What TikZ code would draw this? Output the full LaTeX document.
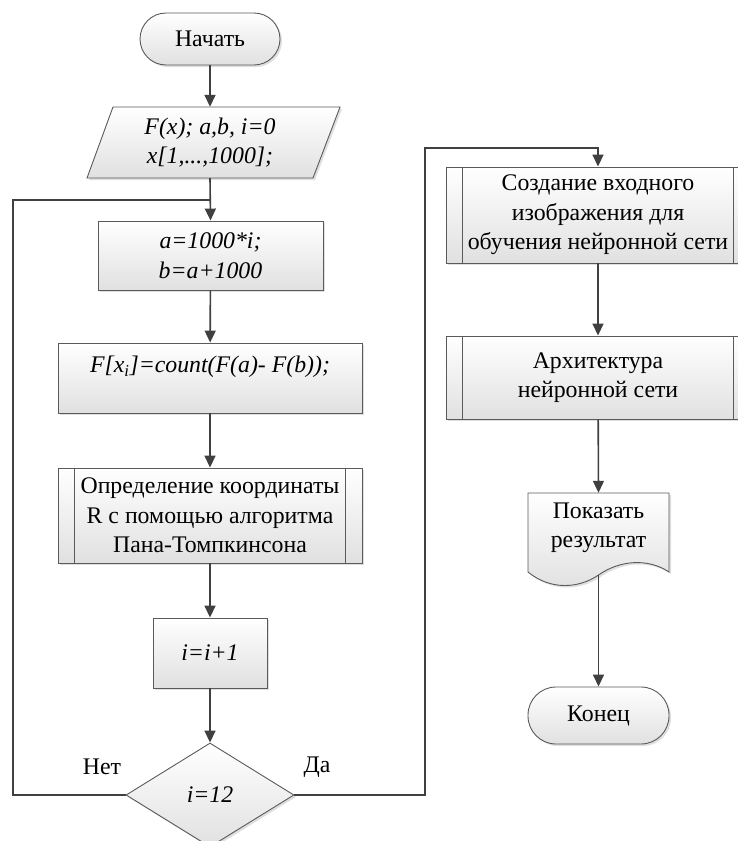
\documentclass[tikz,border=0pt]{standalone}
\usepackage{fontspec}
\setmainfont{Liberation Serif}
\usetikzlibrary{arrows.meta,shapes.geometric,shadows}

\definecolor{linec}{HTML}{404040}
\definecolor{edgec}{HTML}{5A5A5A}

\begin{document}
\begin{tikzpicture}[x=1pt,y=-1pt,
  every node/.style={font=\fontsize{23.8}{29.5}\selectfont, align=center, inner sep=0pt},
  filled/.style={top color=white, bottom color=black!12, draw=edgec, line width=0.9pt,
    drop shadow={shadow xshift=2pt, shadow yshift=-2pt, fill=black!25, opacity=0.5}},
  procbox/.style={filled, rectangle},
  termbox/.style={filled, rectangle, rounded corners=26pt, minimum width=140pt, minimum height=52pt},
  decbox/.style={filled, diamond, minimum width=168pt, minimum height=104pt},
  conn/.style={draw=linec, line width=1.6pt},
  arr/.style={conn, -{Triangle[length=12pt,width=11pt]}},
  subline/.style={draw=edgec, line width=0.9pt}
]
\useasboundingbox (0,0) rectangle (738,841);

% ---------- left column ----------
\node[termbox] (start) at (210,39) {Начать};

% input parallelogram
\path[filled] (113,107) -- (340,107) -- (313,178) -- (87,178) -- cycle;
\node[minimum height=71pt, minimum width=180pt] (inp) at (210,142.5)
  {\itshape F(x); a,b, i=0\\\itshape x[1,...,1000];};

\node[procbox, minimum width=225pt, minimum height=69pt] (b1) at (210.5,255.5)
  {\itshape a=1000*i;\\\itshape b=a+1000};

\node[procbox, minimum width=304pt, minimum height=70pt] (b2) at (210,378) {};
\node (b2t) at (210,367) {\itshape F[x\textsubscript{i}]=count(F(a)- F(b));};

\node[procbox, minimum width=304pt, minimum height=95pt] (b3) at (210,515.5)
  {Определение координаты\\R с помощью алгоритма\\Пана-Томпкинсона};
\draw[subline] ([xshift=17pt]b3.north west) -- ([xshift=17pt]b3.south west);
\draw[subline] ([xshift=-17pt]b3.north east) -- ([xshift=-17pt]b3.south east);

\node[procbox, minimum width=114pt, minimum height=70pt] (b4) at (210,653) {\itshape i=i+1};

\node[decbox] (dec) at (210,795) {\itshape i=12};

\node (no) at (102,767) {Нет};
\node (yes) at (317,767) {Да};

% ---------- right column ----------
\node[procbox, minimum width=304pt, minimum height=96pt] (b5) at (598,215)
  {Создание входного\\изображения для\\обучения нейронной сети};
\draw[subline] ([xshift=17pt]b5.north west) -- ([xshift=17pt]b5.south west);
\draw[subline] ([xshift=-17pt]b5.north east) -- ([xshift=-17pt]b5.south east);

\node[procbox, minimum width=304pt, minimum height=83pt] (b6) at (598,377.5)
  {Архитектура\\нейронной сети};
\draw[subline] ([xshift=17pt]b6.north west) -- ([xshift=17pt]b6.south west);
\draw[subline] ([xshift=-17pt]b6.north east) -- ([xshift=-17pt]b6.south east);

% document shape with wavy bottom
\path[filled] (528,493) -- (669,493) -- (669,572)
  .. controls (648,558) and (620,560) .. (598.5,575)
  .. controls (578,589) and (550,590) .. (528,572) -- cycle;
\node[minimum width=141pt, minimum height=82pt] (doc) at (598.5,534) {};
\node (doct) at (598.5,528) {Показать\\результат};

\node[termbox, minimum width=141pt, minimum height=57pt, rounded corners=28pt] (end) at (598.5,715.5) {Конец};

% ---------- connectors ----------
\coordinate (loopL) at (13,200);
\coordinate (loopJ) at (210,200);
\coordinate (yesR) at (425,148);

\draw[arr] (start) -- (inp);
\draw[arr] (inp.south) -- (b1.north);
\draw[conn] (dec.west) -| (loopL) -- (loopJ);
\draw[arr] (b1) -- (b2);
\draw[arr] (b2) -- (b3);
\draw[arr] (b3) -- (b4);
\draw[arr] (b4) -- (dec);
\draw[arr] (dec.east) -| (yesR) -| (b5.north);
\draw[arr] (b5) -- (b6);
\draw[arr] (b6) -- (doc.north);
\draw[arr] (doc.south) -- (end);
\end{tikzpicture}
\end{document}
